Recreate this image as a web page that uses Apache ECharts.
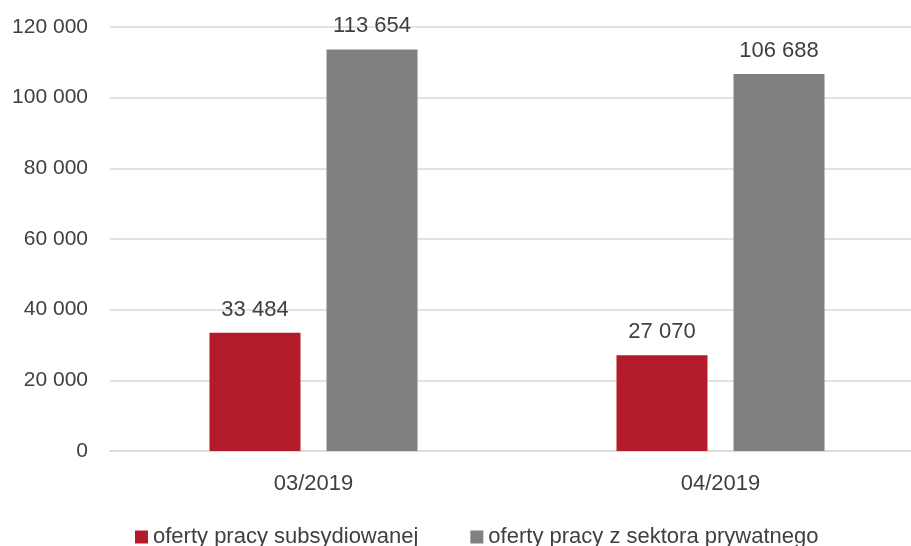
<!DOCTYPE html>
<html><head><meta charset="utf-8">
<script src="https://cdn.jsdelivr.net/npm/echarts@6/dist/echarts.min.js"></script>
<style>html,body{margin:0;padding:0;background:#fff}#c{width:911px;height:546px}</style>
</head><body><div id="c"></div>
<script>
const categories = ['03/2019', '04/2019'];
const seriesNames = ['oferty pracy subsydiowanej', 'oferty pracy z sektora prywatnego'];
const subsidized = [33484, 27070];
const privateSector = [113654, 106688];
const yTicks = [0, 20000, 40000, 60000, 80000, 100000, 120000];

function fmt(v) { return String(v).replace(/\B(?=(\d{3})+(?!\d))/g, ' '); }
const FONT = 'Liberation Sans';
const TXT = '#404040';
const chart = echarts.init(document.getElementById('c'));
chart.setOption({
  animation: false,
  textStyle: { fontFamily: FONT },
  grid: { left: 110, top: 27, right: -13, bottom: 95, containLabel: false, outerBoundsMode: 'none' },
  legend: {
    left: 130, bottom: -7, itemWidth: 13, itemHeight: 13, itemGap: 52,
    icon: 'rect',
    textStyle: { fontFamily: FONT, fontSize: 22, color: TXT },
    data: seriesNames
  },
  xAxis: {
    type: 'category', data: categories,
    axisLine: { lineStyle: { color: '#d9d9d9', width: 1.5 } },
    axisTick: { show: false },
    axisLabel: { fontFamily: FONT, fontSize: 22, color: TXT, margin: 22 }
  },
  yAxis: {
    type: 'value', min: yTicks[0], max: yTicks[yTicks.length - 1], interval: 20000,
    axisLine: { show: false }, axisTick: { show: false },
    splitLine: { lineStyle: { color: '#d9d9d9', width: 1.5 } },
    axisLabel: { fontFamily: FONT, fontSize: 21, color: TXT, margin: 22, formatter: fmt }
  },
  series: [
    { name: seriesNames[0], type: 'bar', data: subsidized, barWidth: 91, barGap: '28.6%',
      itemStyle: { color: '#B31B2A' },
      label: { show: true, position: 'top', distance: 12, fontFamily: FONT, fontSize: 22, color: TXT, formatter: p => fmt(p.value) } },
    { name: seriesNames[1], type: 'bar', data: privateSector, barWidth: 91, barGap: '28.6%',
      itemStyle: { color: '#808080' },
      label: { show: true, position: 'top', distance: 12, fontFamily: FONT, fontSize: 22, color: TXT, formatter: p => fmt(p.value) } }
  ]
});
</script></body></html>
